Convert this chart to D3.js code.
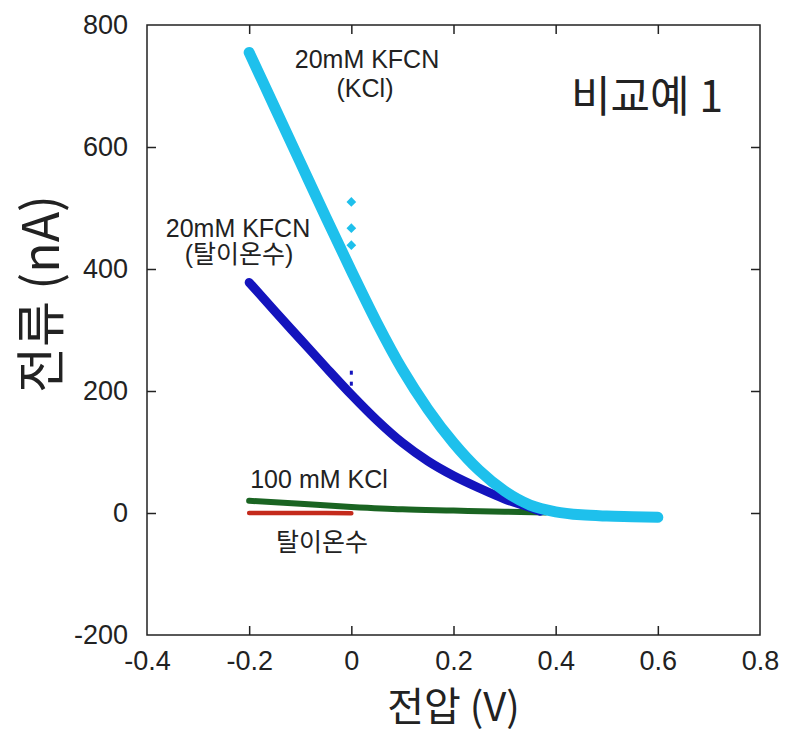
<!DOCTYPE html>
<html>
<head>
	<meta charset="utf-8">
	<title>비교예 1</title>
	<style type="text/css">
		body { margin: 0; background: #fff; }
		text { fill: #222; }
	</style>
</head>
<body>
<script type="text/javascript" src="https://cdn.jsdelivr.net/npm/d3@7"></script>
<script type="text/javascript">
	// data (전압 V, 전류 nA)
	var kfcnKclV = [-0.2, -0.15, -0.1, -0.05, 0, 0.05, 0.1, 0.15, 0.2, 0.25, 0.3, 0.35, 0.4, 0.45, 0.5, 0.55, 0.6];
	var kfcnKclI = [755, 665, 575, 485, 397, 312, 235, 170, 115, 70, 36, 13, 2, -3, -5, -6, -7];
	var kfcnKclOutV = [0, 0, 0];
	var kfcnKclOutI = [510, 467, 439];

	var kfcnDiV = [-0.2, -0.15, -0.1, -0.05, 0, 0.05, 0.1, 0.15, 0.2, 0.25, 0.3, 0.35, 0.37];
	var kfcnDiI = [378, 331, 285, 239, 194, 152, 115, 85, 61, 41, 23, 9, 3];
	var kfcnDiOutV = [0, 0];
	var kfcnDiOutI = [230, 212];

	var kclV = [-0.2, -0.1, 0, 0.1, 0.2, 0.3, 0.38];
	var kclI = [20, 15, 10, 6, 4, 2, 1];

	var diV = [-0.2, -0.1, 0];
	var diI = [0, 0, -0.5];

	var xTicks = [-0.4, -0.2, 0, 0.2, 0.4, 0.6, 0.8];
	var yTicks = [-200, 0, 200, 400, 600, 800];

	// layout
	var w = 785, h = 735;
	var m = {left: 147, right: 760, top: 25, bottom: 635};

	var svg = d3.select("body").append("svg").attr("width", w).attr("height", h);

	var x = d3.scaleLinear().domain([-0.4, 0.8]).range([m.left, m.right]);
	var y = d3.scaleLinear().domain([-200, 800]).range([m.bottom, m.top]);

	var zip = function(vs, is) { return vs.map(function(v, i) { return [v, is[i]]; }); };

	var line = d3.line()
		.x(function(d) { return x(d[0]); })
		.y(function(d) { return y(d[1]); })
		.curve(d3.curveMonotoneX);

	// curves, drawn bottom to top
	var series = [
		{data: zip(diV, diI), color: "#c42a1c", width: 4.5},
		{data: zip(kclV, kclI), color: "#1a6422", width: 6},
		{data: zip(kfcnDiV, kfcnDiI), color: "#1414bd", width: 9},
		{data: zip(kfcnKclV, kfcnKclI), color: "#1ec0ec", width: 11}
	];

	svg.selectAll("path.curve")
		.data(series)
		.enter()
		.append("path")
		.attr("class", "curve")
		.attr("fill", "none")
		.attr("stroke", function(d) { return d.color; })
		.attr("stroke-width", function(d) { return d.width; })
		.attr("stroke-linecap", "round")
		.attr("stroke-linejoin", "round")
		.attr("d", function(d) { return line(d.data); });

	// stray points
	var diamond = d3.symbol().type(d3.symbolDiamond2).size(60);
	svg.selectAll("path.outKcl")
		.data(zip(kfcnKclOutV, kfcnKclOutI))
		.enter()
		.append("path")
		.attr("class", "outKcl")
		.attr("fill", "#1ec0ec")
		.attr("transform", function(d) { return "translate(" + x(d[0]) + "," + y(d[1]) + ")"; })
		.attr("d", diamond);

	svg.selectAll("rect.outDi")
		.data(zip(kfcnDiOutV, kfcnDiOutI))
		.enter()
		.append("rect")
		.attr("class", "outDi")
		.attr("fill", "#1414bd")
		.attr("x", function(d) { return x(d[0]) - 1.5; })
		.attr("y", function(d) { return y(d[1]) - 2; })
		.attr("width", 3)
		.attr("height", 4);

	// axes (ticks point inward)
	var tickFont = "'Liberation Sans', Arial, sans-serif";
	var inner = [-0.2, 0, 0.2, 0.4, 0.6];
	var innerY = [0, 200, 400, 600];
	var fmt = function(d) { return String(+d.toFixed(1)); };

	var gx = svg.append("g").attr("transform", "translate(0," + m.bottom + ")")
		.call(d3.axisBottom(x).tickValues(xTicks).tickSizeInner(-9).tickSizeOuter(0).tickPadding(16).tickFormat(fmt));
	gx.selectAll(".tick line").filter(function(d) { return inner.indexOf(d) < 0; }).remove();

	var gy = svg.append("g").attr("transform", "translate(" + m.left + ",0)")
		.call(d3.axisLeft(y).tickValues(yTicks).tickSizeInner(-9).tickSizeOuter(0).tickPadding(19).tickFormat(fmt));
	gy.selectAll(".tick line").filter(function(d) { return innerY.indexOf(d) < 0; }).remove();

	svg.append("g").attr("transform", "translate(0," + m.top + ")")
		.call(d3.axisTop(x).tickValues(inner).tickSizeInner(-9).tickSizeOuter(0).tickFormat(""));
	svg.append("g").attr("transform", "translate(" + m.right + ",0)")
		.call(d3.axisRight(y).tickValues(innerY).tickSizeInner(-9).tickSizeOuter(0).tickFormat(""));

	svg.selectAll(".domain").remove();
	svg.selectAll(".tick line").attr("stroke", "#222").attr("stroke-width", 1.5);
	svg.selectAll(".tick text").attr("font-family", tickFont).attr("font-size", 27).attr("fill", "#222");

	svg.append("rect")
		.attr("x", m.left).attr("y", m.top)
		.attr("width", m.right - m.left).attr("height", m.bottom - m.top)
		.attr("fill", "none").attr("stroke", "#222").attr("stroke-width", 1.5);

	// titles and labels
	var kr = "'Noto Sans CJK KR', 'Liberation Sans', sans-serif";
	var mixed = "'Liberation Sans', 'Noto Sans CJK KR', sans-serif";

	svg.append("text")
		.attr("x", (m.left + m.right) / 2).attr("y", 721)
		.attr("text-anchor", "middle")
		.attr("font-family", kr).attr("font-size", 40)
		.text("전압 (V)");

	svg.append("text")
		.attr("transform", "translate(59,294) rotate(-90)")
		.attr("text-anchor", "middle")
		.attr("font-family", kr).attr("font-size", 50)
		.text("전류 (nA)");

	svg.append("text")
		.attr("x", 647).attr("y", 112)
		.attr("text-anchor", "middle")
		.attr("font-family", kr).attr("font-size", 43)
		.text("비교예 1");

	var notes = [
		{t: "20mM KFCN", x: 367, y: 68},
		{t: "(KCl)", x: 365, y: 97},
		{t: "20mM KFCN", x: 238, y: 237},
		{t: "(탈이온수)", x: 239, y: 263},
		{t: "100 mM KCl", x: 319, y: 488},
		{t: "탈이온수", x: 322, y: 551}
	];
	svg.selectAll("text.note")
		.data(notes)
		.enter()
		.append("text")
		.attr("class", "note")
		.attr("x", function(d) { return d.x; })
		.attr("y", function(d) { return d.y; })
		.attr("text-anchor", "middle")
		.attr("font-family", mixed)
		.attr("font-size", 25)
		.attr("fill", "#333")
		.text(function(d) { return d.t; });
</script>
</body>
</html>
